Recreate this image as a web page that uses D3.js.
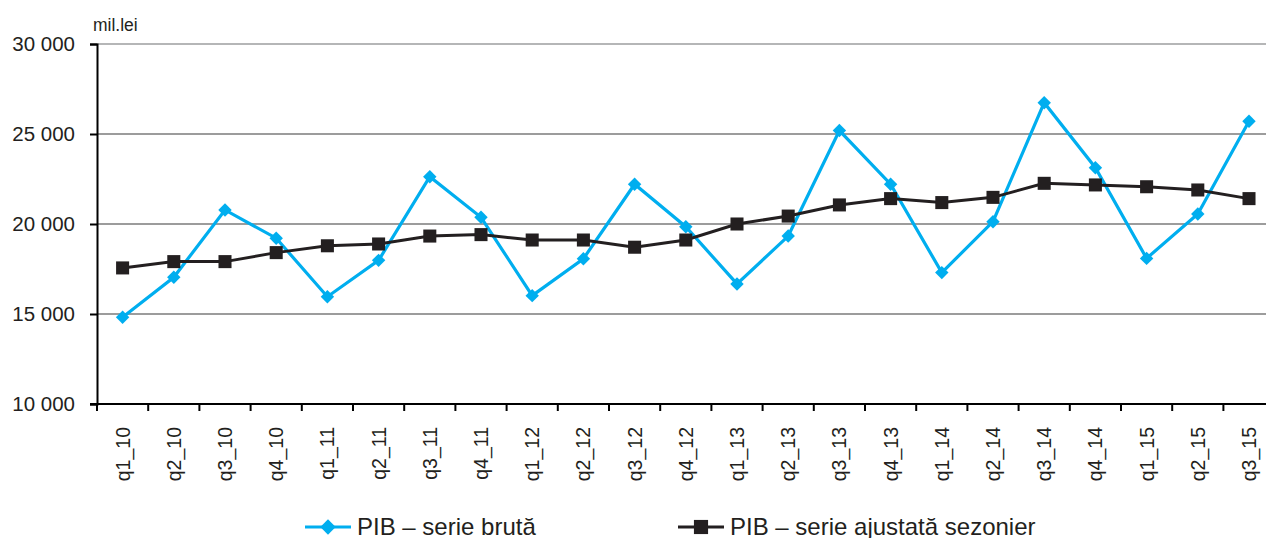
<!DOCTYPE html>
<html>
<head>
<meta charset="utf-8">
<script src="https://cdn.jsdelivr.net/npm/d3@7/dist/d3.min.js"></script>
<style>
    body { margin: 0; background: #fff; }
    svg { display: block; font-family: "Liberation Sans", Arial, sans-serif; }
</style>
</head>
<body>
<svg id="chart" width="1266" height="538"></svg>
<script>
    // quarters, 2010 - 2015
    var quarters = ["q1_10", "q2_10", "q3_10", "q4_10", "q1_11", "q2_11", "q3_11", "q4_11",
        "q1_12", "q2_12", "q3_12", "q4_12", "q1_13", "q2_13", "q3_13", "q4_13",
        "q1_14", "q2_14", "q3_14", "q4_14", "q1_15", "q2_15", "q3_15"];

    // PIB - serie bruta (mil. lei)
    var rawSeries = [14820, 17040, 20780, 19210, 15960, 17980, 22630, 20370,
        16020, 18070, 22210, 19850, 16670, 19330, 25190, 22210,
        17300, 20130, 26740, 23130, 18090, 20560, 25710];

    // PIB - serie ajustata sezonier (mil. lei)
    var adjSeries = [17560, 17910, 17910, 18410, 18790, 18890, 19330, 19410,
        19110, 19110, 18710, 19110, 20000, 20440, 21060, 21410,
        21190, 21480, 22260, 22170, 22070, 21890, 21410];

    var yTicks = [10000, 15000, 20000, 25000, 30000];

    var legendLabels = ["PIB \u2013 serie brut\u0103", "PIB \u2013 serie ajustat\u0103 sezonier"];

    var BLUE = "#00aeef",
        DARK = "#231f20";

    var svg = d3.select("#chart");

    var plotLeft = 97, plotTop = 44, plotBottom = 404, plotRight = 97 + 23 * 51.2;

    var x = d3.scaleBand().domain(quarters).range([plotLeft, plotRight]);
    var y = d3.scaleLinear().domain([10000, 30000]).range([plotBottom, plotTop]);

    var fmt = function (v) {
        return d3.format(",")(v).replace(/,/g, " ");
    };

    // horizontal grid lines
    svg.append("g")
        .selectAll("line")
        .data(yTicks.slice(1))
        .join("line")
        .attr("x1", plotLeft).attr("x2", 1266)
        .attr("y1", function (d) { return y(d); })
        .attr("y2", function (d) { return y(d); })
        .attr("stroke", function (d) { return d === 30000 ? "#6d6e71" : "#3a3a3a"; })
        .attr("stroke-width", 1.2);

    // y axis
    var yAxis = svg.append("g")
        .attr("transform", "translate(" + plotLeft + ",0)")
        .call(d3.axisLeft(y).tickValues(yTicks).tickSize(7).tickPadding(15).tickFormat(fmt));
    yAxis.select(".domain").attr("stroke", "#000").attr("stroke-width", 2);
    yAxis.selectAll(".tick line").attr("stroke", "#000").attr("stroke-width", 2);
    yAxis.selectAll("text")
        .attr("font-size", 20.5).attr("fill", "#231f20")
        .attr("font-family", "'Liberation Sans', Arial, sans-serif");

    // x axis: ticks on band boundaries
    var xg = svg.append("g");
    xg.append("line")
        .attr("x1", plotLeft - 7).attr("x2", 1266)
        .attr("y1", plotBottom).attr("y2", plotBottom)
        .attr("stroke", "#000").attr("stroke-width", 2);
    xg.selectAll("line.tk")
        .data(quarters)
        .join("line")
        .attr("class", "tk")
        .attr("x1", function (d) { return x(d); })
        .attr("x2", function (d) { return x(d); })
        .attr("y1", plotBottom).attr("y2", plotBottom + 7)
        .attr("stroke", "#000").attr("stroke-width", 2);
    xg.selectAll("text")
        .data(quarters)
        .join("text")
        .attr("transform", function (d) {
            return "translate(" + (x(d) + x.bandwidth() / 2 + 7) + "," + (plotBottom + 23) + ") rotate(-90)";
        })
        .attr("text-anchor", "end")
        .attr("font-size", 19.5)
        .attr("fill", "#231f20")
        .text(function (d) { return d; });

    // unit label
    svg.append("text")
        .attr("x", 93).attr("y", 31)
        .attr("font-size", 17.5)
        .attr("fill", "#231f20")
        .text("mil.lei");

    var cx = function (d, i) { return x(quarters[i]) + x.bandwidth() / 2; };

    var line = d3.line()
        .x(cx)
        .y(function (d) { return y(d); });

    var diamond = d3.symbol().type(d3.symbolDiamond2).size(115);
    var square = d3.symbol().type(d3.symbolSquare).size(170);

    // raw series
    svg.append("path")
        .datum(rawSeries)
        .attr("d", line)
        .attr("fill", "none")
        .attr("stroke", BLUE)
        .attr("stroke-width", 3.2);
    svg.append("g")
        .selectAll("path")
        .data(rawSeries)
        .join("path")
        .attr("transform", function (d, i) { return "translate(" + cx(d, i) + "," + y(d) + ")"; })
        .attr("d", diamond)
        .attr("fill", BLUE);

    // seasonally adjusted series
    svg.append("path")
        .datum(adjSeries)
        .attr("d", line)
        .attr("fill", "none")
        .attr("stroke", DARK)
        .attr("stroke-width", 3);
    svg.append("g")
        .selectAll("path")
        .data(adjSeries)
        .join("path")
        .attr("transform", function (d, i) { return "translate(" + cx(d, i) + "," + y(d) + ")"; })
        .attr("d", square)
        .attr("fill", DARK);

    // legend
    var legend = [
        { label: legendLabels[0], color: BLUE, sym: d3.symbol().type(d3.symbolDiamond2).size(150), x: 305 },
        { label: legendLabels[1], color: DARK, sym: d3.symbol().type(d3.symbolSquare).size(200), x: 678 }
    ];
    var lg = svg.append("g").selectAll("g")
        .data(legend)
        .join("g")
        .attr("transform", function (d) { return "translate(" + d.x + ",527)"; });
    lg.append("line")
        .attr("x1", 0).attr("x2", 46)
        .attr("stroke", function (d) { return d.color; })
        .attr("stroke-width", 3);
    lg.append("path")
        .attr("transform", "translate(23,0)")
        .attr("d", function (d) { return d.sym(); })
        .attr("fill", function (d) { return d.color; });
    lg.append("text")
        .attr("x", 52).attr("y", 7.5)
        .attr("font-size", 24)
        .attr("fill", "#231f20")
        .text(function (d) { return d.label; });
</script>
</body>
</html>
